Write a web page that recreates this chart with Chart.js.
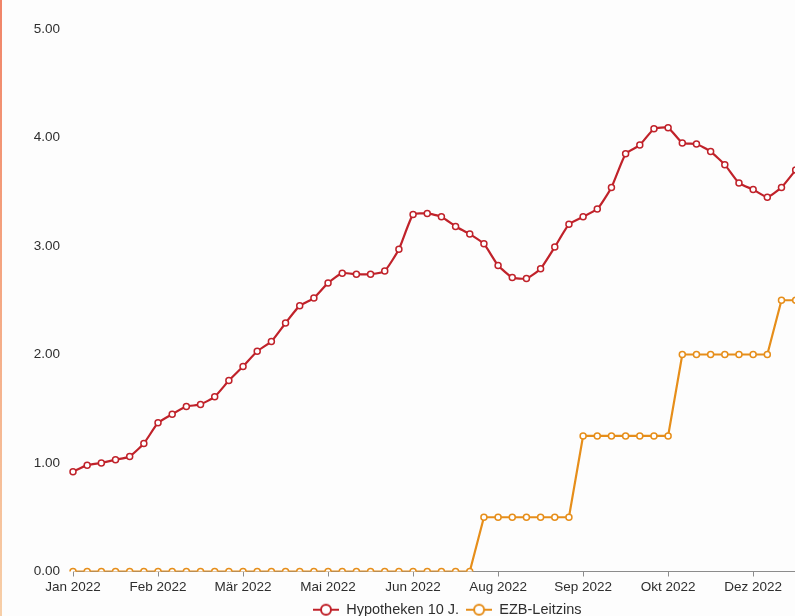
<!DOCTYPE html>
<html lang="de">
<head>
<meta charset="utf-8">
<title>Hypotheken 10 J. und EZB-Leitzins 2022</title>
<script src="https://cdn.jsdelivr.net/npm/chart.js@4.4.1/dist/chart.umd.min.js"></script>
<style>
  html, body { margin: 0; padding: 0; background: #fdfdfd; overflow: hidden; }
  #wrap { position: relative; width: 795px; height: 616px; overflow: hidden; }
  #edge { position: absolute; left: 0; top: 0; width: 2px; height: 616px;
          background: linear-gradient(#f08468, #f4a27e 40%, #f7cfa8); z-index: 2; }
  #chart { position: absolute; left: 0; top: 0; }
</style>
</head>
<body>
<div id="wrap">
  <div id="edge"></div>
  <canvas id="chart" width="876" height="627"></canvas>
</div>
<script>
// Weekly observations, Monday of each week
const weeks = [
  "Jan 2022", "Jan 2022", "Jan 2022", "Jan 2022", "Jan 2022",
  "Feb 2022", "Feb 2022", "Feb 2022", "Feb 2022",
  "Mär 2022", "Mär 2022", "Mär 2022", "Mär 2022",
  "Apr 2022", "Apr 2022", "Apr 2022", "Apr 2022",
  "Mai 2022", "Mai 2022", "Mai 2022", "Mai 2022", "Mai 2022",
  "Jun 2022", "Jun 2022", "Jun 2022", "Jun 2022",
  "Jul 2022", "Jul 2022", "Jul 2022", "Jul 2022",
  "Aug 2022", "Aug 2022", "Aug 2022", "Aug 2022", "Aug 2022",
  "Sep 2022", "Sep 2022", "Sep 2022", "Sep 2022",
  "Okt 2022", "Okt 2022", "Okt 2022", "Okt 2022", "Okt 2022",
  "Nov 2022", "Nov 2022", "Nov 2022", "Nov 2022",
  "Dez 2022", "Dez 2022", "Dez 2022", "Dez 2022",
  "Jan 2023", "Jan 2023", "Jan 2023", "Jan 2023", "Jan 2023"
];

// 10-year mortgage rate, percent
const hypotheken10J = [
  0.92, 0.98, 1.00, 1.03, 1.06, 1.18, 1.37, 1.45, 1.52, 1.54,
  1.61, 1.76, 1.89, 2.03, 2.12, 2.29, 2.45, 2.52, 2.66, 2.75,
  2.74, 2.74, 2.77, 2.97, 3.29, 3.30, 3.27, 3.18, 3.11, 3.02,
  2.82, 2.71, 2.70, 2.79, 2.99, 3.20, 3.27, 3.34, 3.54, 3.85,
  3.93, 4.08, 4.09, 3.95, 3.94, 3.87, 3.75, 3.58, 3.52, 3.45,
  3.54, 3.70
];

// ECB main refinancing rate, percent
const ezbLeitzins = [
  0, 0, 0, 0, 0, 0, 0, 0, 0, 0,
  0, 0, 0, 0, 0, 0, 0, 0, 0, 0,
  0, 0, 0, 0, 0, 0, 0, 0, 0, 0.50,
  0.50, 0.50, 0.50, 0.50, 0.50, 0.50, 1.25, 1.25, 1.25, 1.25,
  1.25, 1.25, 1.25, 2.00, 2.00, 2.00, 2.00, 2.00, 2.00, 2.00,
  2.50, 2.50
];

const yTicks = [0, 1, 2, 3, 4, 5];
const labelEvery = 6;

const RED = "#c0222a";
const ORANGE = "#e68e1a";
const TEXT = "#2e2e2e";
const FONT = "'Liberation Sans', Arial, Helvetica, sans-serif";

// Legend marker: short line with an open circle in the middle
function legendMarker(color) {
  const c = document.createElement("canvas");
  c.width = 26; c.height = 14;
  const g = c.getContext("2d");
  g.strokeStyle = color;
  g.lineWidth = 2;
  g.beginPath(); g.moveTo(0, 7); g.lineTo(26, 7); g.stroke();
  g.beginPath(); g.arc(13, 7, 5, 0, Math.PI * 2);
  g.fillStyle = "#ffffff"; g.fill(); g.stroke();
  return c;
}
const markers = [legendMarker(RED), legendMarker(ORANGE)];

new Chart(document.getElementById("chart"), {
  type: "line",
  data: {
    labels: weeks,
    datasets: [
      {
        label: "Hypotheken 10 J.",
        data: hypotheken10J,
        borderColor: RED,
        backgroundColor: "#ffffff",
        borderWidth: 2.2,
        tension: 0.15,
        pointRadius: 3,
        pointBorderWidth: 1.5,
        pointBackgroundColor: "#ffffff",
        pointBorderColor: RED
      },
      {
        label: "EZB-Leitzins",
        data: ezbLeitzins,
        borderColor: ORANGE,
        backgroundColor: "#ffffff",
        borderWidth: 2.2,
        tension: 0,
        pointRadius: 3,
        pointBorderWidth: 1.5,
        pointBackgroundColor: "#ffffff",
        pointBorderColor: ORANGE
      }
    ]
  },
  options: {
    responsive: false,
    animation: false,
    devicePixelRatio: 1,
    layout: { padding: { left: 28, top: 29, right: 9.5, bottom: 0 } },
    plugins: {
      tooltip: { enabled: false },
      legend: {
        position: "bottom",
        labels: {
          color: TEXT,
          font: { family: FONT, size: 14.5 },
          usePointStyle: true,
          pointStyleWidth: 26,
          boxHeight: 14.5,
          padding: 7,
          generateLabels(chart) {
            const items = Chart.defaults.plugins.legend.labels.generateLabels(chart);
            items.forEach((it, i) => { it.pointStyle = markers[i]; });
            return items;
          }
        }
      }
    },
    scales: {
      x: {
        type: "category",
        offset: false,
        border: { display: true, color: "#8c8c8c", width: 1 },
        grid: {
          display: true,
          drawOnChartArea: false,
          drawTicks: true,
          tickLength: 5,
          color: (ctx) => (ctx.index % labelEvery === 0 ? "#8c8c8c" : "rgba(0,0,0,0)")
        },
        afterFit(scale) { scale.height = 24; },
        ticks: {
          autoSkip: false,
          maxRotation: 0,
          minRotation: 0,
          padding: 3,
          color: TEXT,
          font: { family: FONT, size: 13.5 },
          callback(value, index) {
            return index % labelEvery === 0 ? weeks[index] : "";
          }
        }
      },
      y: {
        min: yTicks[0],
        max: yTicks[yTicks.length - 1],
        border: { display: false },
        grid: { display: false, drawTicks: false },
        afterFit(scale) { scale.width = 45; },
        afterBuildTicks(scale) { scale.ticks = yTicks.map(v => ({ value: v })); },
        ticks: {
          padding: 13,
          color: TEXT,
          font: { family: FONT, size: 13.5 },
          callback(value) { return Number(value).toFixed(2); }
        }
      }
    }
  }
});
</script>
</body>
</html>
